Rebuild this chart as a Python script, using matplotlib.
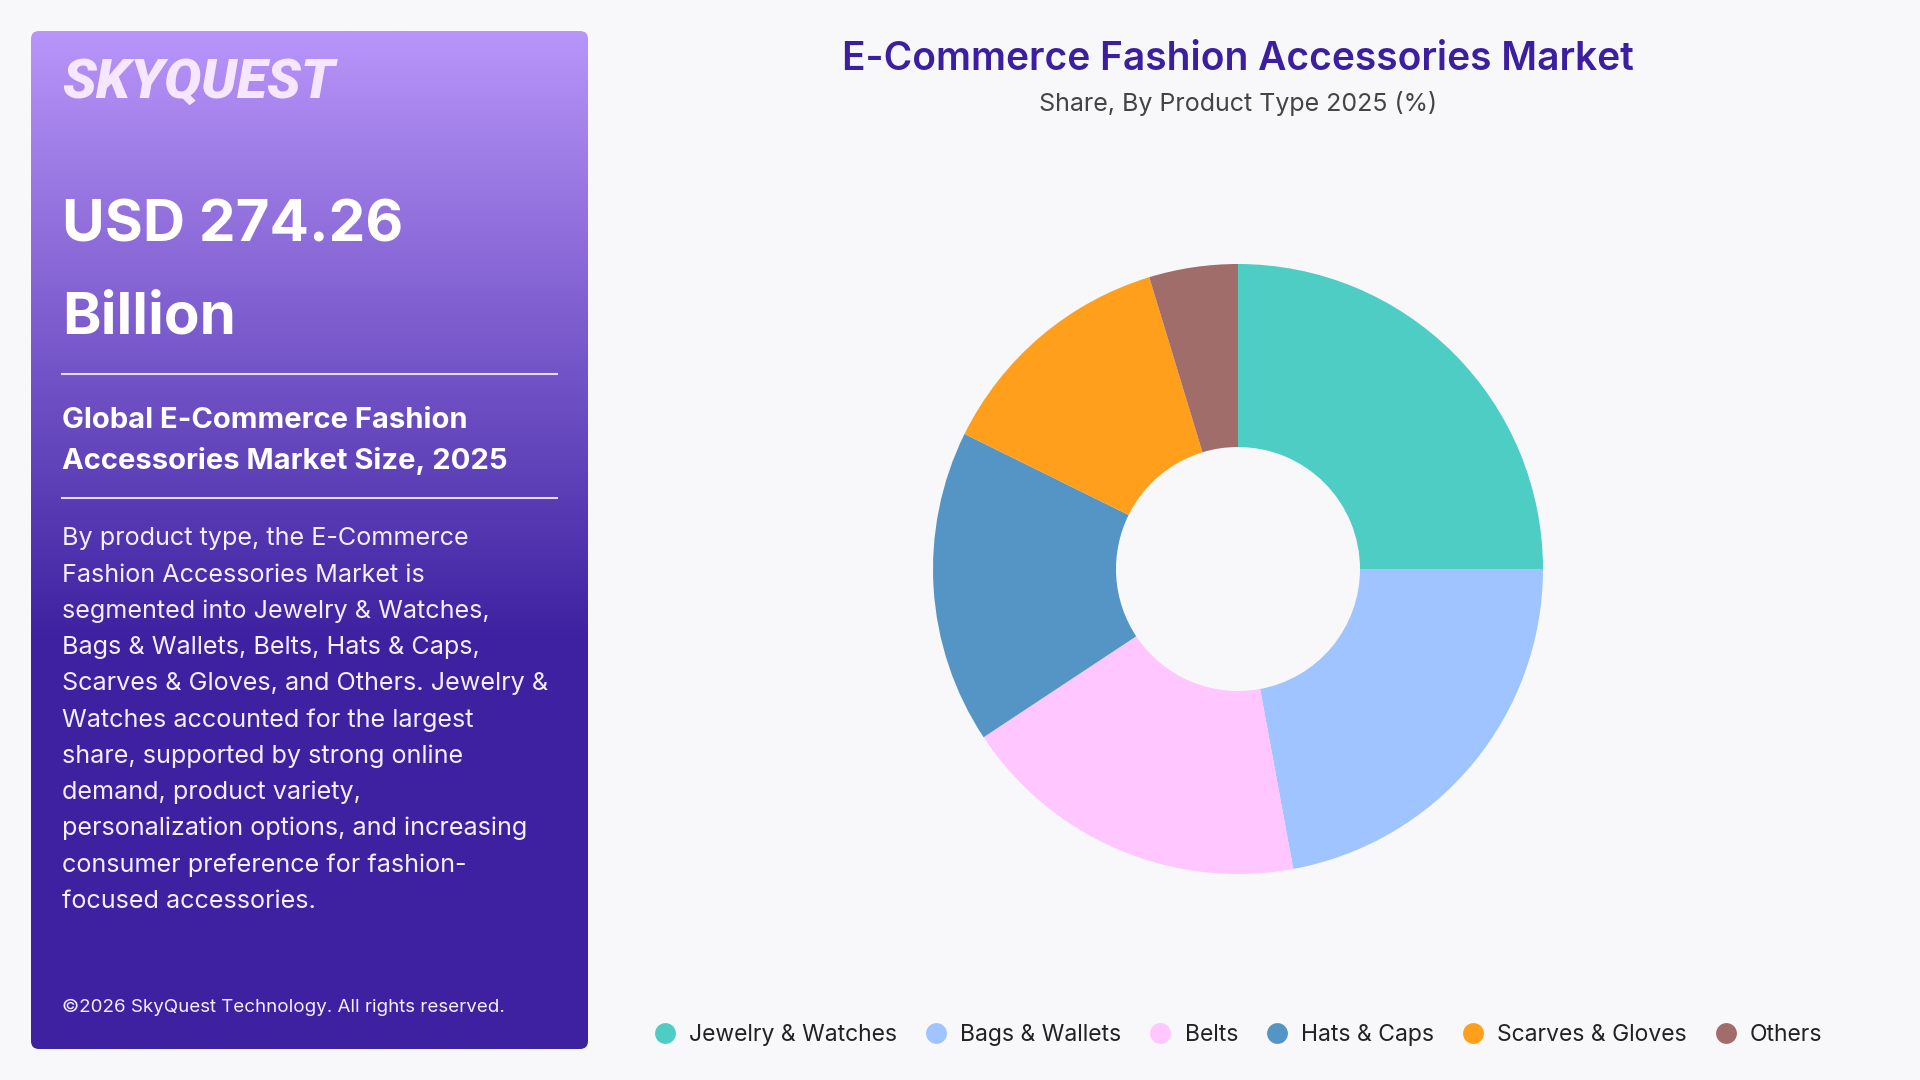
import numpy as np
import matplotlib
matplotlib.use("Agg")
import matplotlib.pyplot as plt
from matplotlib.patches import FancyBboxPatch
from matplotlib.lines import Line2D
from matplotlib.colors import to_rgb

plt.rcParams['font.family'] = ['Inter', 'DejaVu Sans']

# data
categories = ['Jewelry & Watches', 'Bags & Wallets', 'Belts', 'Hats & Caps',
              'Scarves & Gloves', 'Others']
shares = [25.0, 22.1, 18.6, 16.6, 13.0, 4.7]
colors = ['#4ECDC4', '#A0C4FF', '#FFC6FF', '#5495C6', '#FF9F1C', '#A06D6B']

title = 'E-Commerce Fashion Accessories Market'
subtitle = 'Share, By Product Type 2025 (%)'
big_value = ['USD 274.26', 'Billion']
panel_head = ['Global E-Commerce Fashion', 'Accessories Market Size, 2025']
panel_body = [
    'By product type, the E-Commerce',
    'Fashion Accessories Market is',
    'segmented into Jewelry & Watches,',
    'Bags & Wallets, Belts, Hats & Caps,',
    'Scarves & Gloves, and Others. Jewelry &',
    'Watches accounted for the largest',
    'share, supported by strong online',
    'demand, product variety,',
    'personalization options, and increasing',
    'consumer preference for fashion-',
    'focused accessories.',
]
copyright_txt = '\u00a92026 SkyQuest Technology. All rights reserved.'

BG = '#F8F8FA'
fig = plt.figure(figsize=(19.2, 10.8), dpi=100, facecolor=BG)

# pixel-space overlay for the side panel and titles
bg = fig.add_axes([0, 0, 1, 1])
bg.set_xlim(0, 1920)
bg.set_ylim(1080, 0)
bg.axis('off')
bg.set_facecolor(BG)

# gradient panel
x0, y0, x1, y1 = 31, 31, 588, 1049
top_c = np.array(to_rgb('#B895F9'))
bot_c = np.array(to_rgb('#3D21A0'))
ys = np.linspace(y0, y1, 400)
t = np.clip((ys - y0) / (640 - y0), 0, 1)
grad = (top_c[None, :] * (1 - t[:, None]) + bot_c[None, :] * t[:, None])[:, None, :]
panel = FancyBboxPatch((x0, y0), x1 - x0, y1 - y0,
                       boxstyle='round,pad=0,rounding_size=8',
                       facecolor='none', edgecolor='none')
bg.add_patch(panel)
im = bg.imshow(grad, extent=(x0, x1, y1, y0), aspect='auto', zorder=1)
im.set_clip_path(panel)

bg.text(62, 82, 'SKYQUEST', color='#F6E6FF', fontsize=40, fontweight='black',
        style='italic', family=['Roboto', 'DejaVu Sans'], va='center', ha='left', zorder=3)
bg.text(62, 226, big_value[0], color='white', fontsize=42, fontweight='bold',
        va='center', ha='left', zorder=3)
bg.text(62, 318, big_value[1], color='white', fontsize=42, fontweight='bold',
        va='center', ha='left', zorder=3)
bg.plot([62, 557], [374, 374], color='#E8DDFB', lw=1.5, zorder=3)
for i, line in enumerate(panel_head):
    bg.text(62, 421 + i * 40, line, color='white', fontsize=21, fontweight='bold',
            va='center', ha='left', zorder=3)
bg.plot([62, 557], [498, 498], color='#E8DDFB', lw=1.5, zorder=3)
for i, line in enumerate(panel_body):
    bg.text(62, 539 + i * 36.2, line, color='#F4EFFF', fontsize=18.1,
            va='center', ha='left', zorder=3)
bg.text(62, 1007, copyright_txt, color='#F4EFFF', fontsize=13.5,
        va='center', ha='left', zorder=3)

# titles
bg.text(1238, 60, title, color='#3B1FA0', fontsize=28, fontweight='semibold',
        va='center', ha='center', zorder=3)
bg.text(1238, 104, subtitle, color='#444444', fontsize=18,
        va='center', ha='center', zorder=3)

# donut
cx, cy, r = 1238, 569, 305
ax = fig.add_axes([(cx - r) / 1920, 1 - (cy + r) / 1080, 2 * r / 1920, 2 * r / 1080])
ax.pie(shares, colors=colors, startangle=90, counterclock=False,
       radius=1.0, wedgeprops=dict(width=0.6, edgecolor='none'))
ax.set_xlim(-1, 1)
ax.set_ylim(-1, 1)
ax.set_aspect('equal')
ax.axis('off')

# legend
handles = [Line2D([0], [0], marker='o', linestyle='none', markersize=15,
                  markerfacecolor=c, markeredgecolor='none') for c in colors]
fig.legend(handles, categories, loc='center', bbox_to_anchor=(1238 / 1920, 1 - 1035 / 1080),
           ncol=6, frameon=False, fontsize=16.5, handlelength=1.0, handletextpad=0.55,
           columnspacing=1.2, labelcolor='#222222')

fig.savefig('out.png', dpi=100, facecolor=BG)
